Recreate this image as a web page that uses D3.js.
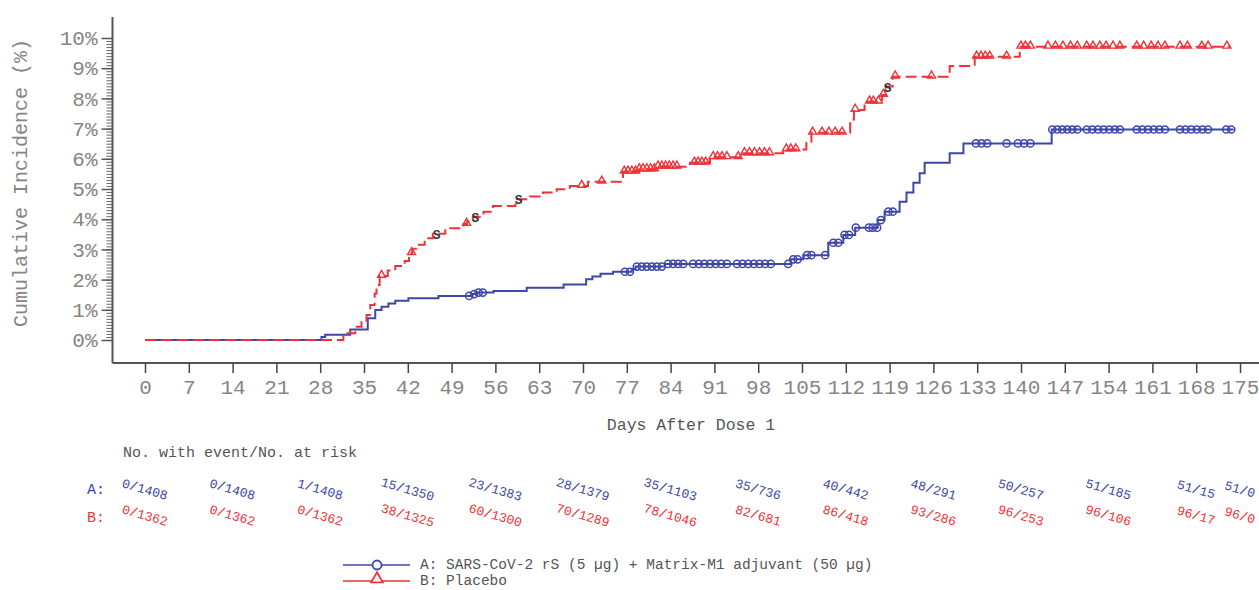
<!DOCTYPE html>
<html>
<head>
<meta charset="utf-8">
<script src="https://cdn.jsdelivr.net/npm/d3@7"></script>
<style>
  body { margin: 0; background: #fff; }
  svg text { font-family: "Liberation Mono", "DejaVu Sans Mono", monospace; }
</style>
</head>
<body>
<svg id="chart" width="1259" height="590"></svg>
<script>
// Group A: vaccine, step times (days) and cumulative incidence (%)
var aDays = [0, 28.2, 28.8, 32.8, 35.6, 36.8, 37.8, 38.9, 40.0, 42.1, 46.9, 52.3, 53.0, 55.7, 61.0, 66.9,
  70.5, 71.5, 72.8, 74.8, 77.8, 78.4, 83.1, 103.2, 105.2, 109.2, 111.6, 113.5, 117.1, 118.2, 120.6,
  121.7, 122.8, 123.8, 124.6, 128.6, 130.8, 144.9, 174.0];
var aPct = [0, 0.10, 0.17, 0.35, 0.72, 0.99, 1.10, 1.21, 1.30, 1.38, 1.46, 1.52, 1.57, 1.62, 1.73, 1.84,
  2.01, 2.10, 2.19, 2.26, 2.35, 2.43, 2.52, 2.67, 2.81, 3.22, 3.48, 3.72, 3.97, 4.25, 4.58,
  4.88, 5.21, 5.52, 5.87, 6.18, 6.51, 6.97, 6.97];
var aCensor = [51.8, 52.6, 53.3, 54.0, 76.7, 77.5, 78.6, 79.4, 80.2, 81.0, 81.8, 82.6,
  83.6, 84.4, 85.2, 86.0, 87.6, 88.5, 89.4, 90.3, 91.2, 92.1, 93.0, 94.6, 95.5, 96.4, 97.3, 98.2, 99.1, 100.0,
  102.8, 103.6, 104.3, 105.8, 106.5, 108.7, 110.0, 110.8, 111.8, 112.5, 113.6, 115.7, 116.3, 117.0,
  117.6, 118.8, 119.5, 132.8, 133.7, 134.6, 137.7, 139.5, 140.5, 141.5,
  145.0, 145.8, 146.6, 147.4, 148.2, 149.0, 150.5, 151.4, 152.3, 153.2, 154.1, 155.0, 155.8,
  158.5, 159.4, 160.3, 161.2, 162.1, 163.0, 165.4, 166.3, 167.2, 168.1, 169.0, 169.9, 172.8, 173.6];

// Group B: placebo
var bDays = [0, 31.7, 33.6, 34.6, 35.4, 36.0, 36.7, 37.0, 37.5, 38.8, 40.0, 41.5, 42.2, 42.7, 43.4, 44.7,
  46.0, 48.0, 50.9, 51.5, 52.4, 54.1, 55.6, 59.2, 61.5, 63.6, 65.8, 67.9, 70.8, 76.4, 79.0, 82.0,
  87.1, 90.3, 95.4, 102.0, 105.7, 106.5, 112.7, 113.3, 115.0, 117.8, 118.4, 119.5, 128.6, 132.6, 139.8, 173.5];
var bPct = [0, 0.22, 0.44, 0.60, 0.83, 1.16, 1.54, 1.82, 2.12, 2.30, 2.45, 2.62, 2.87, 3.02, 3.15, 3.37,
  3.52, 3.70, 3.84, 3.93, 4.08, 4.25, 4.44, 4.66, 4.75, 4.88, 4.99, 5.10, 5.24, 5.57, 5.65, 5.74,
  5.87, 6.05, 6.18, 6.31, 6.53, 6.86, 7.30, 7.62, 7.89, 8.11, 8.39, 8.72, 9.07, 9.38, 9.71, 9.71];
var bCensor = [37.8, 42.6, 51.4, 69.8, 73.0,
  76.6, 77.2, 77.8, 78.4, 79.0, 79.6, 80.2, 80.8, 81.4, 82.0, 82.6, 83.2, 83.8, 84.4, 85.0,
  87.8, 88.4, 89.0, 89.6, 90.8, 91.5, 92.2, 93.0, 94.8, 95.8, 96.6, 97.4, 98.2, 99.0, 99.8,
  102.5, 103.2, 104.0, 106.7, 108.2, 109.3, 110.3, 111.4, 113.5, 115.8, 116.4, 117.2, 118.0,
  119.9, 125.7, 132.9, 133.6, 134.3, 135.0, 137.7, 140.0, 140.7, 141.5,
  144.3, 145.5, 146.7, 147.9, 149.0, 150.5, 151.5, 152.6, 153.6, 154.7, 155.8,
  158.5, 159.6, 160.8, 161.9, 163.0, 165.4, 166.6, 168.9, 169.9, 172.9];
var bSMarks = [46.6, 52.8, 59.7, 118.7];

// Number at risk table
var riskDays = [0, 14, 28, 42, 56, 70, 84, 98, 112, 126, 140, 154, 168, 175];
var riskA = ['0/1408', '0/1408', '1/1408', '15/1350', '23/1383', '28/1379', '35/1103', '35/736',
  '40/442', '48/291', '50/257', '51/185', '51/15', '51/0'];
var riskB = ['0/1362', '0/1362', '0/1362', '38/1325', '60/1300', '70/1289', '78/1046', '82/681',
  '86/418', '93/286', '96/253', '96/106', '96/17', '96/0'];

var xTicks = d3.range(0, 176, 7);
var yTicks = d3.range(0, 11, 1);
var yMinor = d3.range(0, 100.5, 1).map(function(d) { return d / 10; });

var BLUE = '#3d47a8';
var RED = '#ee3338';
var GREY = '#858585';

var svg = d3.select('#chart');

var x = d3.scaleLinear().domain([0, 175]).range([145, 1240]);
var y = d3.scaleLinear().domain([0, 10]).range([340, 38]);

// value of a step curve at a given day
function stepValue(days, pct, t) {
  var i = d3.bisectRight(days, t) - 1;
  return pct[Math.max(0, i)];
}

// Axes
var yAxisX = 112.5, xAxisY = 363;

svg.append('line')
  .attr('x1', yAxisX).attr('x2', yAxisX).attr('y1', 17).attr('y2', xAxisY)
  .attr('stroke', '#555').attr('stroke-width', 2);
svg.append('line')
  .attr('x1', yAxisX).attr('x2', 1259).attr('y1', xAxisY).attr('y2', xAxisY)
  .attr('stroke', '#555').attr('stroke-width', 2);

var yMinorAxis = svg.append('g')
  .attr('transform', 'translate(' + yAxisX + ',0)')
  .call(d3.axisLeft(y).tickValues(yMinor).tickSize(6).tickSizeOuter(0).tickFormat(''));
yMinorAxis.select('.domain').remove();
yMinorAxis.selectAll('line').attr('stroke', '#666').attr('stroke-width', 1);

var yAxis = svg.append('g')
  .attr('transform', 'translate(' + yAxisX + ',0)')
  .call(d3.axisLeft(y).tickValues(yTicks).tickSize(11).tickPadding(4).tickSizeOuter(0)
    .tickFormat(function(d) { return d + '%'; }));
yAxis.select('.domain').remove();
yAxis.selectAll('line').attr('stroke', '#555').attr('stroke-width', 1.5);
yAxis.selectAll('text')
  .attr('font-family', '"Liberation Mono", monospace')
  .attr('font-size', 21).attr('fill', GREY);

var xAxis = svg.append('g')
  .attr('transform', 'translate(0,' + xAxisY + ')')
  .call(d3.axisBottom(x).tickValues(xTicks).tickSize(10).tickPadding(6).tickSizeOuter(0));
xAxis.select('.domain').remove();
xAxis.selectAll('line').attr('stroke', '#444').attr('stroke-width', 1.5);
xAxis.selectAll('text')
  .attr('font-family', '"Liberation Mono", monospace')
  .attr('font-size', 21).attr('fill', GREY);

// Axis titles
svg.append('text')
  .attr('transform', 'translate(27,183) rotate(-90)')
  .attr('text-anchor', 'middle')
  .attr('font-size', 20).attr('fill', GREY)
  .text('Cumulative Incidence (%)');

svg.append('text')
  .attr('x', 691).attr('y', 430)
  .attr('text-anchor', 'middle')
  .attr('font-size', 16.5).attr('fill', '#555')
  .text('Days After Dose 1');

// Curves
var line = d3.line()
  .x(function(d) { return x(d[0]); })
  .y(function(d) { return y(d[1]); })
  .curve(d3.curveStepAfter);

var aData = d3.zip(aDays, aPct);
var bData = d3.zip(bDays, bPct);

svg.append('path')
  .datum(aData)
  .attr('d', line)
  .attr('fill', 'none').attr('stroke', BLUE).attr('stroke-width', 2);

svg.selectAll('.censA')
  .data(aCensor)
  .enter().append('circle')
  .attr('class', 'censA')
  .attr('cx', function(d) { return x(d); })
  .attr('cy', function(d) { return y(stepValue(aDays, aPct, d)); })
  .attr('r', 3.6)
  .attr('fill', 'none').attr('stroke', BLUE).attr('stroke-width', 1.5);

svg.append('path')
  .datum(bData)
  .attr('d', line)
  .attr('fill', 'none').attr('stroke', RED).attr('stroke-width', 2)
  .attr('stroke-dasharray', '11,5');

var tri = d3.symbol().type(d3.symbolTriangle).size(28);

svg.selectAll('.censB')
  .data(bCensor)
  .enter().append('path')
  .attr('class', 'censB')
  .attr('d', tri)
  .attr('transform', function(d) {
    return 'translate(' + x(d) + ',' + (y(stepValue(bDays, bPct, d)) - 1) + ')';
  })
  .attr('fill', 'none').attr('stroke', RED).attr('stroke-width', 1.4);

svg.selectAll('.sMark')
  .data(bSMarks)
  .enter().append('text')
  .attr('class', 'sMark')
  .attr('x', function(d) { return x(d); })
  .attr('y', function(d) { return y(stepValue(bDays, bPct, d)) + 5; })
  .attr('text-anchor', 'middle')
  .attr('font-family', '"DejaVu Serif", serif')
  .attr('font-size', 13).attr('font-weight', 'bold')
  .attr('fill', '#333')
  .text('S');

// Number at risk
svg.append('text')
  .attr('x', 123).attr('y', 457)
  .attr('font-size', 15).attr('fill', '#555')
  .text('No. with event/No. at risk');

svg.append('text')
  .attr('x', 87).attr('y', 494)
  .attr('font-size', 15).attr('fill', BLUE)
  .text('A:');
svg.append('text')
  .attr('x', 87).attr('y', 522)
  .attr('font-size', 15).attr('fill', RED)
  .text('B:');

function riskRow(labels, cy, color) {
  svg.selectAll(null)
    .data(labels)
    .enter().append('text')
    .attr('text-anchor', 'middle')
    .attr('transform', function(d, i) {
      return 'translate(' + x(riskDays[i]) + ',' + cy + ') rotate(16)';
    })
    .attr('dy', '0.35em')
    .attr('font-size', 13).attr('fill', color)
    .text(function(d) { return d; });
}
riskRow(riskA, 489, BLUE);
riskRow(riskB, 515, RED);

// Legend
var legend = [
  { label: 'A: SARS-CoV-2 rS (5 \u00b5g) + Matrix-M1 adjuvant (50 \u00b5g)', color: BLUE, y: 565 },
  { label: 'B: Placebo', color: RED, y: 581 }
];
legend.forEach(function(l, i) {
  svg.append('line')
    .attr('x1', 343).attr('x2', 410).attr('y1', l.y).attr('y2', l.y)
    .attr('stroke', l.color).attr('stroke-width', 1.6);
  if (i === 0) {
    svg.append('circle')
      .attr('cx', 377).attr('cy', l.y).attr('r', 4.5)
      .attr('fill', '#fff').attr('stroke', l.color).attr('stroke-width', 1.8);
  } else {
    svg.append('path')
      .attr('d', d3.symbol().type(d3.symbolTriangle).size(60))
      .attr('transform', 'translate(377,' + (l.y - 2) + ')')
      .attr('fill', '#fff').attr('stroke', l.color).attr('stroke-width', 1.8);
  }
  svg.append('text')
    .attr('x', 420).attr('y', l.y + 4)
    .attr('font-size', 14.5).attr('fill', '#555')
    .text(l.label);
});
</script>
</body>
</html>
